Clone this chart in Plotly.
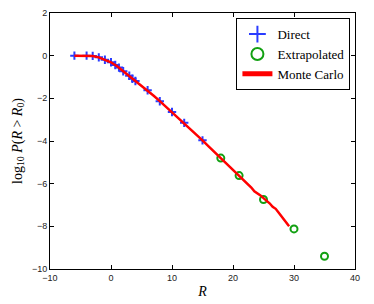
import plotly.graph_objects as go

# Direct (blue +)
direct_x = [-6, -4, -3, -2, -1, 0, 0.7, 1.3, 2, 3, 3.5, 4, 6, 8, 10, 12, 15]
direct_y = [0.0, 0.0, -0.01, -0.08, -0.19, -0.31, -0.44, -0.56, -0.73, -0.94, -1.08, -1.19, -1.62, -2.14, -2.64, -3.15, -3.97]

# Extrapolated (green circles)
extrap_x = [18, 21, 25, 30, 35]
extrap_y = [-4.80, -5.62, -6.74, -8.12, -9.40]

# Monte Carlo (red line)
mc_x = [-6, -5, -4, -3, -2, -1, 0, 1, 2, 3, 4, 5, 6, 7, 8, 9, 10, 11, 12, 13, 14, 15,
        16, 17, 18, 19, 20, 21, 22, 22.5, 23, 23.5, 24, 24.5, 25, 25.5, 26, 26.5, 27,
        27.5, 28, 28.5, 29, 29.2]
mc_y = [0.0, 0.0, 0.0, -0.02, -0.08, -0.19, -0.31, -0.50, -0.73, -0.95, -1.18, -1.40,
        -1.62, -1.88, -2.13, -2.39, -2.64, -2.90, -3.15, -3.42, -3.70, -3.97,
        -4.25, -4.52, -4.80, -5.08, -5.36, -5.63, -5.90, -6.05, -6.18, -6.36, -6.44,
        -6.55, -6.68, -6.78, -6.92, -7.08, -7.18, -7.36, -7.55, -7.72, -7.88, -8.00]

x_ticks = [-10, 0, 10, 20, 30, 40]
y_ticks = [-10, -8, -6, -4, -2, 0, 2]

fig = go.Figure()
fig.add_trace(go.Scatter(
    x=direct_x, y=direct_y, mode="markers", name="Direct",
    marker=dict(symbol="cross-thin", size=6, line=dict(color="#2a3cff", width=2), color="#2a3cff"),
))
fig.add_trace(go.Scatter(
    x=extrap_x, y=extrap_y, mode="markers", name="Extrapolated",
    marker=dict(symbol="circle-open", size=7, line=dict(color="#12a012", width=2), color="#12a012"),
))
fig.add_trace(go.Scatter(
    x=mc_x, y=mc_y, mode="lines", name="Monte Carlo",
    line=dict(color="#ff0000", width=2.5),
))

axis_common = dict(
    showgrid=False, zeroline=False, showline=True, linecolor="black", linewidth=1,
    mirror="ticks", ticks="inside", ticklen=4, tickcolor="black", automargin=False,
    tickfont=dict(family="Liberation Sans, Arial, sans-serif", size=9, color="#222"),
)

fig.update_layout(
    width=366, height=296,
    margin=dict(l=42, r=19, t=5, b=35),
    paper_bgcolor="white", plot_bgcolor="white",
    showlegend=True,
    legend=dict(
        x=0.985, y=0.98, xanchor="right", yanchor="top",
        bgcolor="white", bordercolor="black", borderwidth=1,
        font=dict(family="Liberation Serif, Times New Roman, serif", size=13, color="black"),
        tracegroupgap=0, itemsizing="constant",
    ),
    xaxis=dict(range=[-10, 40], tickvals=x_ticks,
               title=dict(text="<i>R</i>", standoff=4,
                          font=dict(family="Liberation Serif, serif", size=14, color="black")),
               **axis_common),
    yaxis=dict(range=[-10, 2], tickvals=y_ticks,
               title=dict(text="log<sub>10</sub> <i>P</i>(<i>R</i> > <i>R</i><sub>0</sub>)", standoff=6,
                          font=dict(family="Liberation Serif, serif", size=14, color="black")),
               **axis_common),
)

fig.write_html("out.html")
